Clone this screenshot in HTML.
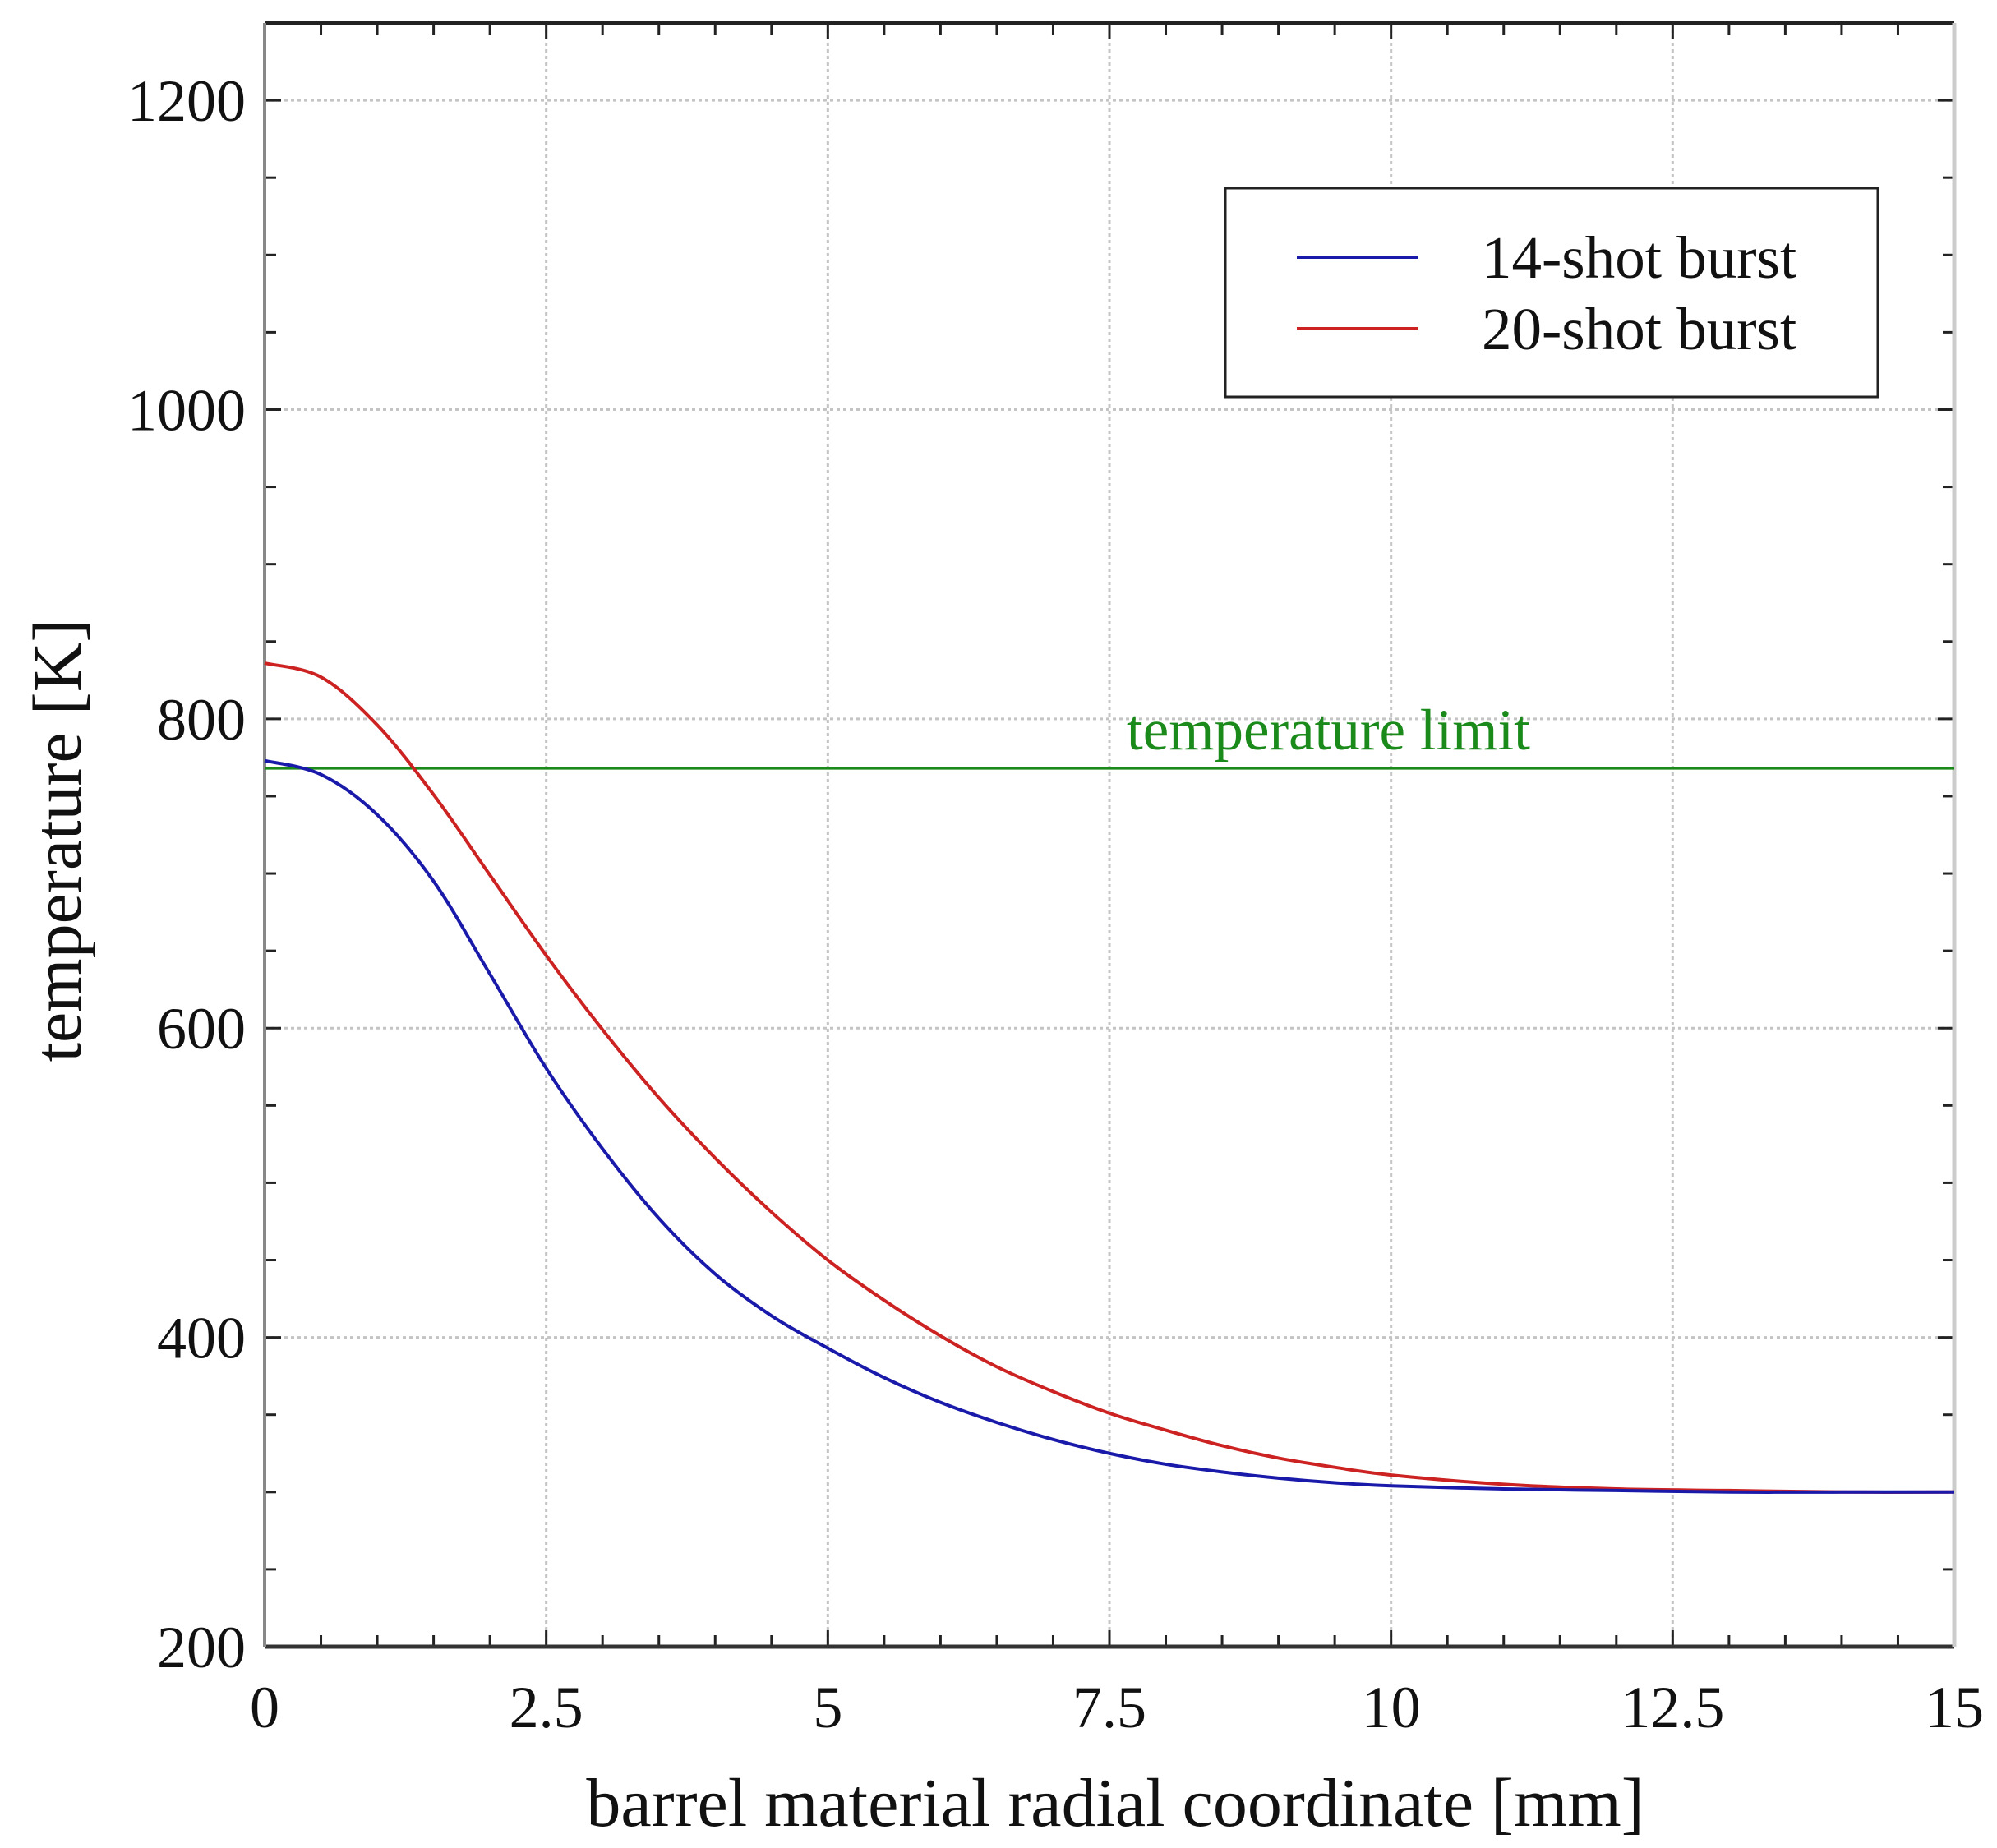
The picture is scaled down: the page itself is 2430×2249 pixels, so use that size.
<!DOCTYPE html>
<html><head><meta charset="utf-8"><style>
html,body{margin:0;padding:0;background:#fff;}
svg{display:block;font-family:"Liberation Serif",serif;}
</style></head><body>
<svg id="chart" width="2430" height="2249" viewBox="0 0 2430 2249" xmlns="http://www.w3.org/2000/svg"></svg>
<script>
const xs = [0,0.5,1,1.5,2,2.5,3,3.5,4,4.5,5,5.5,6,6.5,7,7.5,8,8.5,9,9.5,10,11,12,13,14,15];
const blue14 = [773,764,738,695,635,574,522,477,441,414,393,374,358,345,334,325,318,313,309,306,304,302,301,300,300,300];
const red20 = [836,827,796,751,699,647,599,555,516,481,450,424,401,381,365,351,340,330,322,316,311,305,302,301,300,300];
const limitValue = 768;
const xTicks = [0,2.5,5,7.5,10,12.5,15];
const xTickLabels = ["0","2.5","5","7.5","10","12.5","15"];
const yTicks = [200,400,600,800,1000,1200];
const yTickLabels = ["200","400","600","800","1000","1200"];

const NS="http://www.w3.org/2000/svg";
const svg=document.getElementById('chart');
const L=322,R=2378,T=28,B=2004;
const X=v=>L+(v-0)/(15-0)*(R-L);
const Y=v=>B-(v-200)/(1250-200)*(B-T);
function mk(tag,attrs,parent){const e=document.createElementNS(NS,tag);for(const k in attrs)e.setAttribute(k,attrs[k]);(parent||svg).appendChild(e);return e;}

const grid=mk('g',{});


xTicks.forEach(v=>{const l=mk('line',{x1:X(v),x2:X(v),y1:T,y2:B,stroke:'#c4c4c4','stroke-width':3,'stroke-dasharray':'4 4'},grid);

});
yTicks.forEach(v=>{const l=mk('line',{x1:L,x2:R,y1:Y(v),y2:Y(v),stroke:'#c4c4c4','stroke-width':3,'stroke-dasharray':'4 4'},grid);

});

const ticks=mk('g',{stroke:'#222','stroke-width':3});


for(let v=0;v<=15.001;v+=0.5){const len=(Math.abs(v/2.5-Math.round(v/2.5))<1e-6)?20:14;
mk('line',{x1:X(v),x2:X(v),y1:B,y2:B-len},ticks);mk('line',{x1:X(v),x2:X(v),y1:T,y2:T+len},ticks);}
for(let v=200;v<=1250;v+=50){const len=(v%200===0)?20:14;
mk('line',{x1:L,x2:L+len,y1:Y(v),y2:Y(v)},ticks);mk('line',{x1:R,x2:R-len,y1:Y(v),y2:Y(v)},ticks);}

const fr=mk('g',{});


mk('line',{x1:L,x2:R,y1:B,y2:B,stroke:'#333','stroke-width':5},fr);
mk('line',{x1:L,x2:R,y1:T,y2:T,stroke:'#222','stroke-width':4},fr);
mk('line',{x1:L,x2:L,y1:T,y2:B,stroke:'#888','stroke-width':4},fr);
mk('line',{x1:R,x2:R,y1:T,y2:B,stroke:'#ccc','stroke-width':5},fr);

xTicks.forEach((v,i)=>{const t=mk('text',{x:X(v),y:2102,'text-anchor':'middle','font-size':72,fill:'#111'});t.textContent=xTickLabels[i];

});
yTicks.forEach((v,i)=>{const t=mk('text',{x:299,y:Y(v)+25,'text-anchor':'end','font-size':72,fill:'#111'});t.textContent=yTickLabels[i];

});

const xt=mk('text',{x:1357,y:2222,'text-anchor':'middle','font-size':84,fill:'#111'});xt.textContent='barrel material radial coordinate [mm]';


const yt=mk('text',{x:0,y:0,'text-anchor':'middle','font-size':84,fill:'#111',transform:'translate(98,1023) rotate(-90)'});yt.textContent='temperature [K]';



const lim=mk('line',{x1:L,x2:R,y1:Y(limitValue),y2:Y(limitValue),stroke:'#1a8a1a','stroke-width':3});


const limT=mk('text',{x:1371,y:912,'font-size':71,fill:'#1a8a1a'});limT.textContent='temperature limit';



function pathFor(vals){const p=xs.map((x,i)=>[X(x),Y(vals[i])]);let d='M'+p[0][0]+','+p[0][1];
for(let i=0;i<p.length-1;i++){const p0=p[i-1]||p[i],p1=p[i],p2=p[i+1],p3=p[i+2]||p2;
const c1=[p1[0]+(p2[0]-p0[0])/6,p1[1]+(p2[1]-p0[1])/6],c2=[p2[0]-(p3[0]-p1[0])/6,p2[1]-(p3[1]-p1[1])/6];
d+=' C'+c1+' '+c2+' '+p2;}return d;}
const rp=mk('path',{d:pathFor(red20),fill:'none',stroke:'#cc2222','stroke-width':4});


const bp=mk('path',{d:pathFor(blue14),fill:'none',stroke:'#1a1aaa','stroke-width':4});



const lg=mk('g',{});


mk('rect',{x:1491,y:229,width:794,height:254,fill:'#fff',stroke:'#222','stroke-width':3},lg);
mk('line',{x1:1578,x2:1726,y1:313,y2:313,stroke:'#1a1aaa','stroke-width':4},lg);
mk('line',{x1:1578,x2:1726,y1:400,y2:400,stroke:'#cc2222','stroke-width':4},lg);
const l1=mk('text',{x:1803,y:338,'font-size':73,fill:'#111'},lg);l1.textContent='14-shot burst';


const l2=mk('text',{x:1803,y:425,'font-size':73,fill:'#111'},lg);l2.textContent='20-shot burst';


</script>
</body></html>
